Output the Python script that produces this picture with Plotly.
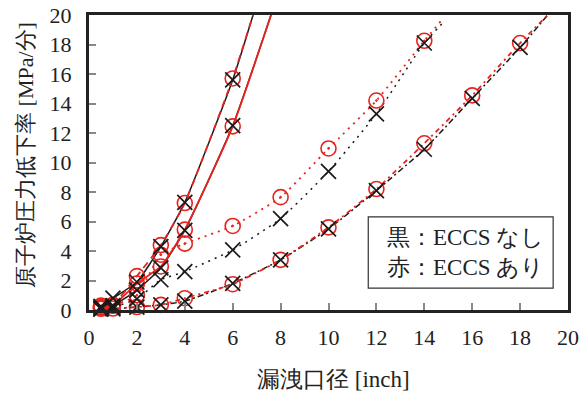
import plotly.graph_objects as go

# Leak diameter [inch] for each case group
diam_a = [0.5, 1, 2, 3, 4, 6]
diam_b = [0.5, 1, 2, 3, 4, 6]
diam_c = [0.5, 1, 2, 3, 4, 6, 8, 10, 12, 14]
diam_d = [0.5, 1, 2, 3, 4, 6, 8, 10, 12, 14, 16, 18]

# Pressure drop rate [MPa/min]: black = without ECCS, red = with ECCS
a_black = [0.25, 0.8, 1.9, 4.3, 7.3, 15.6]
a_red = [0.3, 0.35, 2.3, 4.4, 7.25, 15.7]
b_black = [0.15, 0.3, 1.35, 2.85, 5.4, 12.5]
b_red = [0.2, 0.3, 1.8, 2.95, 5.45, 12.45]
c_black = [0.1, 0.2, 0.75, 2.05, 2.6, 4.07, 6.2, 9.4, 13.3, 18.1]
c_red = [0.15, 0.3, 1.0, 3.75, 4.5, 5.7, 7.65, 10.95, 14.2, 18.25]
d_black = [0.05, 0.08, 0.2, 0.35, 0.6, 1.8, 3.4, 5.5, 8.1, 10.9, 14.35, 17.8]
d_red = [0.08, 0.1, 0.2, 0.35, 0.8, 1.75, 3.4, 5.6, 8.2, 11.3, 14.55, 18.1]

# Where each trend curve is carried past the last computed case
a_black_end, a_red_end = (6.85, 20.0), (6.85, 20.0)
b_black_end, b_red_end = (7.6, 20.0), (7.6, 20.0)
c_black_end, c_red_end = (14.85, 19.6), (14.7, 19.6)
d_black_end, d_red_end = (19.15, 20.0), (19.15, 20.0)

legend_lines = ["黒：ECCS なし", "赤：ECCS あり"]
x_title = "漏洩口径 [inch]"
y_title = "原子炉圧力低下率 [MPa/分]"

BLACK = "#1a1a1a"
RED = "#e8231e"
SERIF = "'Times New Roman', 'DejaVu Serif', serif"

groups = [
    (diam_a, a_black, a_red, a_black_end, a_red_end, "solid", "7px,5px", "circle-open"),
    (diam_b, b_black, b_red, b_black_end, b_red_end, "solid", "solid", "circle-open"),
    (diam_c, c_black, c_red, c_black_end, c_red_end, "2px,5px", "2px,5px", "circle-open-dot"),
    (diam_d, d_black, d_red, d_black_end, d_red_end, "6px,3px,2px,3px", "5px,4px,2px,4px", "circle-open"),
]

fig = go.Figure()

# trend curves: black first, red drawn over it
for xs, yb, yr, eb, er, db, dr, sym in groups:
    fig.add_trace(go.Scatter(
        x=xs + [eb[0]], y=yb + [eb[1]], mode="lines",
        line=dict(color=BLACK, width=1.5, dash=db, shape="spline", smoothing=0.5),
        showlegend=False, hoverinfo="skip"))
for xs, yb, yr, eb, er, db, dr, sym in groups:
    fig.add_trace(go.Scatter(
        x=xs + [er[0]], y=yr + [er[1]], mode="lines",
        line=dict(color=RED, width=1.8, dash=dr, shape="spline", smoothing=0.5),
        showlegend=False, hoverinfo="skip"))

# case markers
for xs, yb, yr, eb, er, db, dr, sym in groups:
    fig.add_trace(go.Scatter(
        x=xs, y=yr, mode="markers", cliponaxis=False,
        marker=dict(symbol=sym, size=15, color=RED, line=dict(color=RED, width=1.6)),
        showlegend=False))
for xs, yb, yr, eb, er, db, dr, sym in groups:
    fig.add_trace(go.Scatter(
        x=xs, y=yb, mode="markers", cliponaxis=False,
        marker=dict(symbol="x-thin", size=15, color=BLACK, line=dict(color=BLACK, width=1.7)),
        showlegend=False))

axis_common = dict(
    range=[0, 20], dtick=2, showgrid=False, zeroline=False, automargin=False,
    showline=True, linecolor="#222222", linewidth=3, mirror=True,
    ticks="inside", ticklen=7, tickwidth=1.5, tickcolor="#888888",
    tickfont=dict(family=SERIF, size=22, color="#222222"),
)

fig.update_layout(
    width=579, height=396,
    margin=dict(l=89, r=11, t=15, b=86),
    paper_bgcolor="white", plot_bgcolor="white",
    font=dict(family=SERIF),
    xaxis=dict(**axis_common, ticklabelstandoff=6),
    yaxis=dict(**axis_common, ticklabelstandoff=10),
    showlegend=False,
)

# axis titles
fig.add_annotation(text=x_title, xref="paper", yref="paper", x=0.51, y=-0.237,
                   showarrow=False, font=dict(family=SERIF, size=23, color="#222222"),
                   xanchor="center", yanchor="middle")
fig.add_annotation(text=y_title, xref="paper", yref="paper", x=-0.134, y=0.525,
                   showarrow=False, textangle=-90,
                   font=dict(family=SERIF, size=22, color="#222222"),
                   xanchor="center", yanchor="middle")

# colour key box
fig.add_shape(type="rect", xref="paper", yref="paper",
              x0=0.583, x1=0.969, y0=0.074, y1=0.316,
              line=dict(color="#333333", width=1.2), fillcolor="white")
fig.add_annotation(text="<br>".join(legend_lines), xref="paper", yref="paper",
                   x=0.617, y=0.195, xanchor="left", yanchor="middle", align="left",
                   showarrow=False, font=dict(family=SERIF, size=23, color="#222222"))

fig.write_html("out.html")
